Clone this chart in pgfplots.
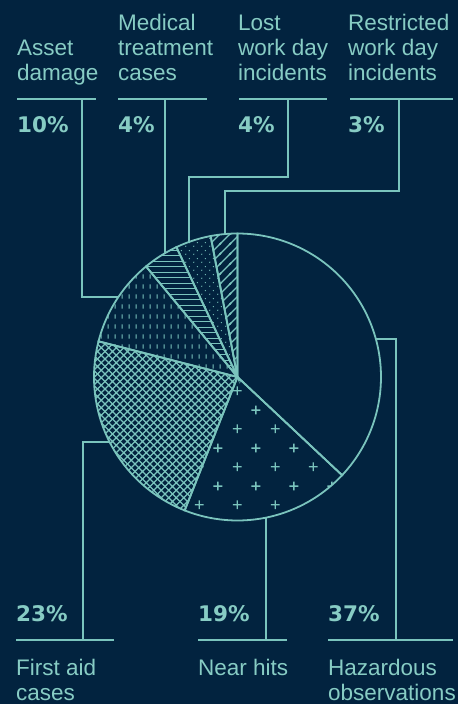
\documentclass[border=0pt]{standalone}
\usepackage{pgfplots}
\pgfplotsset{compat=1.18}
\usepackage{fontspec}
\setmainfont{Liberation Sans}
\newfontfamily\pctfont{DejaVu Sans}
\usetikzlibrary{patterns,patterns.meta}
\definecolor{bgc}{RGB}{2,35,63}
\definecolor{lc}{RGB}{122,196,189}
\definecolor{tc}{RGB}{135,204,196}

\tikzdeclarepattern{name=plusgrid, type=uncolored,
  bounding box={(0pt,0pt) and (38pt,38pt)}, tile size={(38pt,38pt)},
  code={\draw[line width=1.4pt] (5pt,9.5pt)--(14pt,9.5pt) (9.5pt,5pt)--(9.5pt,14pt)
        (24pt,28.5pt)--(33pt,28.5pt) (28.5pt,24pt)--(28.5pt,33pt);}}
\tikzdeclarepattern{name=xhatch, type=uncolored,
  bounding box={(-1pt,-1pt) and (8.5pt,8.5pt)}, tile size={(7.5pt,7.5pt)},
  code={\draw[line width=1.1pt] (-0.5pt,-0.5pt)--(8pt,8pt) (-0.5pt,8pt)--(8pt,-0.5pt);}}
\tikzdeclarepattern{name=vdash, type=uncolored,
  bounding box={(0pt,0pt) and (7pt,9.5pt)}, tile size={(7pt,9.5pt)},
  code={\draw[line width=1.1pt] (3.5pt,2.5pt)--(3.5pt,7pt);}}
\tikzdeclarepattern{name=hlines, type=uncolored,
  bounding box={(-0.5pt,0pt) and (6pt,5.5pt)}, tile size={(5.5pt,5.5pt)},
  code={\draw[line width=1.1pt] (-0.5pt,2.75pt)--(6pt,2.75pt);}}
\tikzdeclarepattern{name=sdots, type=uncolored,
  bounding box={(0pt,0pt) and (8pt,8pt)}, tile size={(8pt,8pt)},
  code={\fill (2pt,2pt) circle (0.75pt) (6pt,6pt) circle (0.75pt);}}
\tikzdeclarepattern{name=nelines, type=uncolored,
  bounding box={(-1pt,-1pt) and (11pt,11pt)}, tile size={(10pt,10pt)},
  code={\draw[line width=1.2pt] (-1pt,-1pt)--(11pt,11pt) (-1pt,9pt)--(1pt,11pt) (9pt,-1pt)--(11pt,1pt);}}

\newcommand{\lab}[3]{\node[anchor=base west,inner sep=0pt,text=tc,font=\fontsize{22.5}{25}\selectfont] at (axis cs:#1,#2) {#3};}
\newcommand{\pct}[3]{\node[anchor=base west,inner sep=0pt,text=tc,font=\pctfont\bfseries\fontsize{21.5}{25}\selectfont] at (axis cs:#1,#2) {#3};}

\begin{document}
\begin{tikzpicture}
\fill[bgc] (0,0) rectangle (458pt,704pt);
\begin{axis}[at={(0pt,0pt)},anchor=south west,width=458pt,height=704pt,scale only axis,
  xmin=0,xmax=458,ymin=0,ymax=704,hide axis,clip=false]
% pie wedges: values in percent, clockwise from 90 degrees
% Hazardous observations 37
\addplot[draw=lc,line width=1.8pt,domain={90-3.6*37}:90,samples=80,variable=\t]
  ({237.5+143.5*cos(\t)},{327+143.5*sin(\t)}) -- (237.5,327) -- cycle;
% Near hits 19
\addplot[draw=lc,line width=1.8pt,pattern=plusgrid,pattern color=lc,domain={90-3.6*(37+19)}:{90-3.6*37},samples=50,variable=\t]
  ({237.5+143.5*cos(\t)},{327+143.5*sin(\t)}) -- (237.5,327) -- cycle;
% First aid cases 23
\addplot[draw=lc,line width=1.8pt,pattern=xhatch,pattern color=lc,domain={90-3.6*(37+19+23)}:{90-3.6*(37+19)},samples=50,variable=\t]
  ({237.5+143.5*cos(\t)},{327+143.5*sin(\t)}) -- (237.5,327) -- cycle;
% Asset damage 10
\addplot[draw=lc,line width=1.8pt,pattern=vdash,pattern color=lc,domain={90-3.6*(37+19+23+10)}:{90-3.6*(37+19+23)},samples=30,variable=\t]
  ({237.5+143.5*cos(\t)},{327+143.5*sin(\t)}) -- (237.5,327) -- cycle;
% Medical treatment cases 4
\addplot[draw=lc,line width=1.8pt,pattern=hlines,pattern color=lc,domain={90-3.6*(37+19+23+10+4)}:{90-3.6*(37+19+23+10)},samples=20,variable=\t]
  ({237.5+143.5*cos(\t)},{327+143.5*sin(\t)}) -- (237.5,327) -- cycle;
% Lost work day incidents 4
\addplot[draw=lc,line width=1.8pt,pattern=sdots,pattern color=lc,domain={90-3.6*(37+19+23+10+4+4)}:{90-3.6*(37+19+23+10+4)},samples=20,variable=\t]
  ({237.5+143.5*cos(\t)},{327+143.5*sin(\t)}) -- (237.5,327) -- cycle;
% Restricted work day incidents 3
\addplot[draw=lc,line width=1.8pt,pattern=nelines,pattern color=lc,domain={90-3.6*(37+19+23+10+4+4+3)}:{90-3.6*(37+19+23+10+4+4)},samples=20,variable=\t]
  ({237.5+143.5*cos(\t)},{327+143.5*sin(\t)}) -- (237.5,327) -- cycle;

% leader lines
\addplot[lc,line width=1.4pt] coordinates {(17,605) (96,605)};
\addplot[lc,line width=1.4pt] coordinates {(82,605) (82,407) (118.5,407)};
\addplot[lc,line width=1.4pt] coordinates {(118,605) (207,605)};
\addplot[lc,line width=1.4pt] coordinates {(165,605) (165,451)};
\addplot[lc,line width=1.4pt] coordinates {(239,605) (327,605)};
\addplot[lc,line width=1.4pt] coordinates {(288,605) (288,527) (189,527) (189,462)};
\addplot[lc,line width=1.4pt] coordinates {(350,605) (453,605)};
\addplot[lc,line width=1.4pt] coordinates {(399,605) (399,513) (225,513) (225,470)};
\addplot[lc,line width=1.4pt] coordinates {(16,64) (114,64)};
\addplot[lc,line width=1.4pt] coordinates {(83,64) (83,262) (109.6,262)};
\addplot[lc,line width=1.4pt] coordinates {(198,64) (287,64)};
\addplot[lc,line width=1.4pt] coordinates {(266,64) (266,186.4)};
\addplot[lc,line width=1.4pt] coordinates {(328,64) (453,64)};
\addplot[lc,line width=1.4pt] coordinates {(396,64) (396,365) (376,365)};

% top labels
\lab{17}{648}{Asset}
\lab{17}{623}{damage}
\lab{118}{673}{Medical}
\lab{118}{648}{treatment}
\lab{118}{623}{cases}
\lab{238}{673}{Lost}
\lab{238}{648}{work day}
\lab{238}{623}{incidents}
\lab{348}{673}{Restricted}
\lab{348}{648}{work day}
\lab{348}{623}{incidents}
\pct{17}{571}{10\%}
\pct{118}{571}{4\%}
\pct{238}{571}{4\%}
\pct{348}{571}{3\%}
% bottom labels
\pct{16}{82}{23\%}
\pct{198}{82}{19\%}
\pct{328}{82}{37\%}
\lab{16}{28}{First aid}
\lab{16}{4}{cases}
\lab{198}{28}{Near hits}
\lab{328}{28}{Hazardous}
\lab{328}{4}{observations}
\end{axis}
\end{tikzpicture}
\end{document}
